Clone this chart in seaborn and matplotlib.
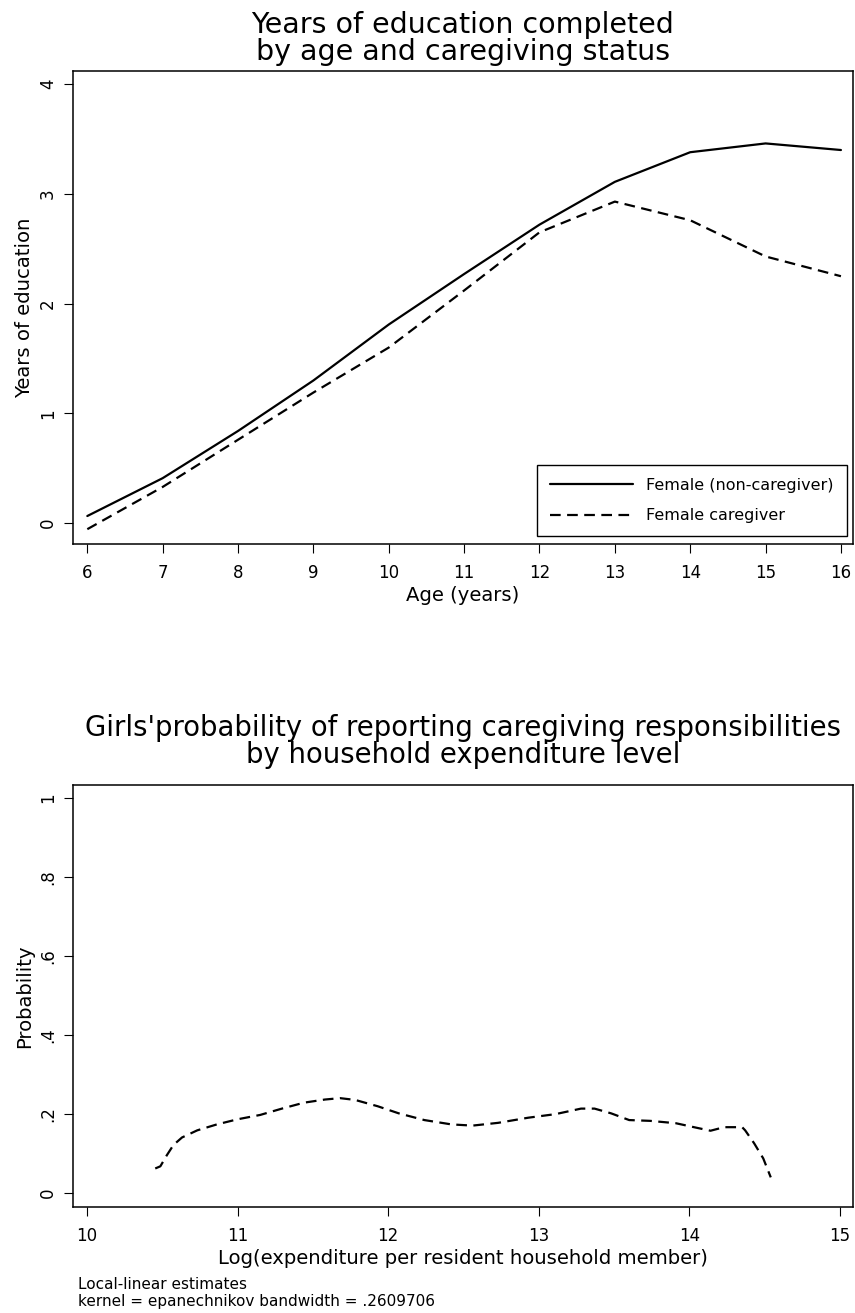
import numpy as np
import pandas as pd
import matplotlib
matplotlib.use("Agg")
import matplotlib.pyplot as plt
import seaborn as sns

# ---------------- data ----------------
ages = [6, 7, 8, 9, 10, 11, 12, 13, 14, 15, 16]
non_caregiver = [0.065, 0.41, 0.84, 1.30, 1.81, 2.27, 2.72, 3.11, 3.38, 3.46, 3.40]
caregiver = [-0.055, 0.33, 0.76, 1.19, 1.60, 2.12, 2.65, 2.93, 2.76, 2.43, 2.25]
group_labels = ["Female (non-caregiver)", "Female caregiver"]

log_exp = [10.453, 10.487, 10.53, 10.574, 10.631, 10.732, 10.862, 11.0, 11.15,
           11.294, 11.44, 11.58, 11.68, 11.78, 11.93, 12.07, 12.24, 12.42, 12.56,
           12.73, 12.93, 13.11, 13.28, 13.37, 13.48, 13.60, 13.74, 13.91, 14.03,
           14.14, 14.23, 14.35, 14.37, 14.43, 14.49, 14.54]
prob_caregiving = [0.0625, 0.068, 0.096, 0.122, 0.141, 0.159, 0.174, 0.187, 0.198,
                   0.214, 0.229, 0.237, 0.2405, 0.236, 0.220, 0.202, 0.185, 0.174,
                   0.171, 0.178, 0.191, 0.200, 0.214, 0.214, 0.202, 0.185, 0.183,
                   0.177, 0.167, 0.158, 0.167, 0.167, 0.159, 0.126, 0.088, 0.040]

top_yticks = [0, 1, 2, 3, 4]
top_xticks = ages
bot_yticks = [0, 0.2, 0.4, 0.6, 0.8, 1.0]
bot_yticklabels = ["0", ".2", ".4", ".6", ".8", "1"]
bot_xticks = [10, 11, 12, 13, 14, 15]

# ---------------- style ----------------
sns.set_theme(style="ticks")
plt.rcParams['font.family'] = ['DejaVu Sans']
plt.rcParams.update({
    "axes.edgecolor": "black",
    "axes.linewidth": 1.1,
    "xtick.color": "black",
    "ytick.color": "black",
    "text.color": "black",
    "axes.labelcolor": "black",
    "xtick.major.size": 6.5,
    "ytick.major.size": 6.5,
    "xtick.major.width": 0.8,
    "ytick.major.width": 0.8,
})

W, H = 855, 1313
fig = plt.figure(figsize=(W / 100, H / 100), dpi=100)
fig.patch.set_facecolor("white")


def rect(l, t, r, b):
    return [l / W, 1 - b / H, (r - l) / W, (b - t) / H]


ax1 = fig.add_axes(rect(73, 71, 853, 544))
ax2 = fig.add_axes(rect(73, 785, 853, 1207))

DASH = (4.8, 2.9)
LW = 1.6
TICK_FS = 12.0
LABEL_FS = 14.1

# ---------------- top panel ----------------
df1 = pd.DataFrame({
    "Age": ages * 2,
    "Years": non_caregiver + caregiver,
    "Group": [group_labels[0]] * len(ages) + [group_labels[1]] * len(ages),
})
sns.lineplot(data=df1, x="Age", y="Years", style="Group", style_order=group_labels,
             dashes={group_labels[0]: "", group_labels[1]: DASH},
             color="black", linewidth=LW, ax=ax1, legend=False)
ax1.set_xlim(5.81, 16.16)
ax1.set_ylim(-0.19, 4.12)
ax1.set_xticks(top_xticks)
ax1.set_yticks(top_yticks)
ax1.set_xticklabels([str(v) for v in top_xticks])
ax1.set_yticklabels([str(v) for v in top_yticks])
ax1.set_xlabel("Age (years)", fontsize=LABEL_FS, labelpad=3)
ax1.set_ylabel("Years of education", fontsize=LABEL_FS)
ax1.set_title("Years of education completed\nby age and caregiving status",
              fontsize=20.5, linespacing=0.95, pad=7.8)

leg = ax1.legend(handles=ax1.lines[:2], labels=group_labels, loc="lower right",
                 bbox_to_anchor=(0.992, 0.017), borderaxespad=0, fontsize=11.5,
                 handlelength=5.2, handletextpad=0.85, labelspacing=0.95,
                 borderpad=0.8, fancybox=False, framealpha=1, edgecolor="black")
leg.get_frame().set_linewidth(1.0)

# ---------------- bottom panel ----------------
sns.lineplot(x=log_exp, y=prob_caregiving, color="black", linewidth=LW,
             linestyle=(0, DASH), ax=ax2)
ax2.set_xlim(9.907, 15.086)
ax2.set_ylim(-0.035, 1.033)
ax2.set_xticks(bot_xticks)
ax2.set_xticklabels([str(v) for v in bot_xticks])
ax2.set_yticks(bot_yticks)
ax2.set_yticklabels(bot_yticklabels)
ax2.set_xlabel("Log(expenditure per resident household member)",
               fontsize=LABEL_FS, labelpad=3)
ax2.set_ylabel("Probability", fontsize=LABEL_FS)
ax2.set_title("Girls'probability of reporting caregiving responsibilities\n"
              "by household expenditure level",
              fontsize=19.8, linespacing=0.95, pad=15.8)

for ax in (ax1, ax2):
    for s in ax.spines.values():
        s.set_visible(True)
        s.set_color("black")
    ax.tick_params(axis="x", labelsize=TICK_FS, pad=8)
    ax.tick_params(axis="y", labelsize=TICK_FS, pad=5, labelrotation=90)
    for lbl in ax.get_yticklabels():
        lbl.set_va("center")
    ax.yaxis.set_label_coords(-0.062, 0.5)
    ax.yaxis.label.set_va("center")
    ax.set_facecolor("white")
    ax.grid(False)

fig.text(78 / W, 1 - 1289 / H, "Local-linear estimates", fontsize=11,
         ha="left", va="baseline")
fig.text(78 / W, 1 - 1306 / H, "kernel = epanechnikov bandwidth = .2609706",
         fontsize=11, ha="left", va="baseline")

fig.savefig("out.png", dpi=100, facecolor="white")
